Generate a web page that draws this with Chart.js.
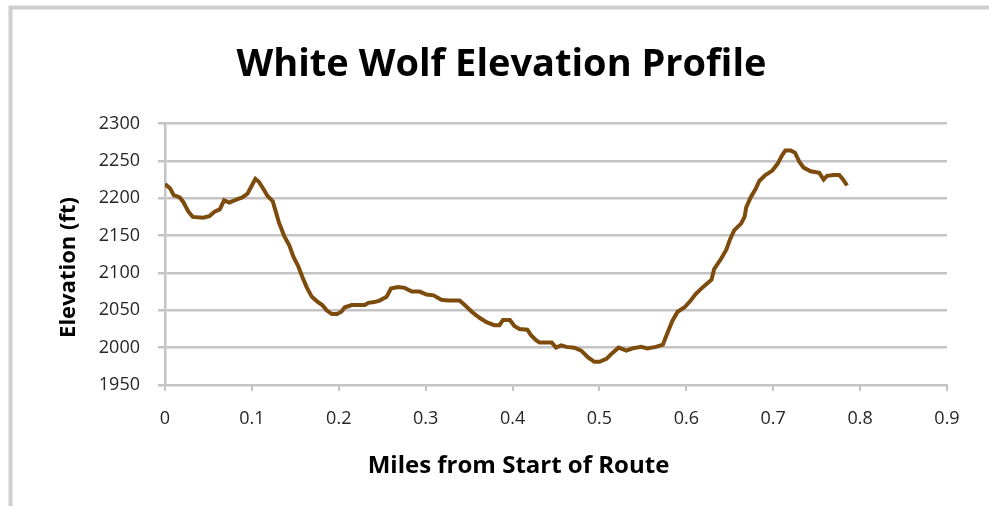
<!DOCTYPE html>
<html>
<head>
<meta charset="utf-8">
<script src="https://cdn.jsdelivr.net/npm/chart.js@4.4.0/dist/chart.umd.min.js"></script>
<style>
  html, body { margin: 0; padding: 0; background: #ffffff; }
  #wrap { width: 989px; height: 506px; }
</style>
</head>
<body>
<div id="wrap"><canvas id="c" width="989" height="506"></canvas></div>
<script>
const CHART_TITLE = "White Wolf Elevation Profile";
const X_TITLE = "Miles from Start of Route";
const Y_TITLE = "Elevation (ft)";
const X_TICK_LABELS = ["0", "0.1", "0.2", "0.3", "0.4", "0.5", "0.6", "0.7", "0.8", "0.9"];
const Y_TICK_LABELS = ["1950", "2000", "2050", "2100", "2150", "2200", "2250", "2300"];

const miles = [
  0.000, 0.006, 0.010, 0.017, 0.021, 0.027, 0.032, 0.044, 0.051, 0.057,
  0.063, 0.068, 0.074, 0.082, 0.089, 0.095, 0.099, 0.104, 0.108, 0.114,
  0.118, 0.124, 0.127, 0.131, 0.137, 0.143, 0.148, 0.153, 0.158, 0.163,
  0.169, 0.175, 0.181, 0.186, 0.192, 0.198, 0.203, 0.207, 0.215, 0.230,
  0.234, 0.241, 0.247, 0.255, 0.260, 0.268, 0.276, 0.284, 0.293, 0.301,
  0.309, 0.318, 0.326, 0.339, 0.345, 0.353, 0.362, 0.370, 0.379, 0.385,
  0.389, 0.397, 0.402, 0.408, 0.417, 0.421, 0.427, 0.431, 0.445, 0.450,
  0.456, 0.462, 0.471, 0.479, 0.487, 0.494, 0.500, 0.508, 0.515, 0.522,
  0.531, 0.538, 0.548, 0.555, 0.565, 0.573, 0.578, 0.584, 0.590, 0.598,
  0.605, 0.611, 0.619, 0.629, 0.632, 0.640, 0.646, 0.650, 0.655, 0.663,
  0.667, 0.669, 0.674, 0.680, 0.684, 0.691, 0.699, 0.705, 0.710, 0.714,
  0.720, 0.725, 0.730, 0.735, 0.743, 0.753, 0.758, 0.762, 0.770, 0.776,
  0.781, 0.785
];
const elevation = [
  2219, 2213, 2204, 2201, 2195, 2182, 2175, 2174, 2176, 2182,
  2185, 2197, 2194, 2198, 2201, 2206, 2215, 2226, 2222, 2211,
  2203, 2196, 2184, 2168, 2150, 2137, 2121, 2110, 2095, 2081,
  2068, 2062, 2057, 2050, 2045, 2045, 2048, 2054, 2057, 2057,
  2060, 2061, 2063, 2068, 2079, 2081, 2080, 2075, 2075, 2071,
  2070, 2064, 2063, 2063, 2057, 2048, 2040, 2034, 2030, 2030,
  2037, 2037, 2029, 2025, 2024, 2017, 2010, 2007, 2007, 2000,
  2003, 2001, 2000, 1996, 1987, 1981, 1981, 1985, 1993, 2000,
  1996, 1999, 2001, 1999, 2001, 2004, 2019, 2036, 2048, 2054,
  2063, 2072, 2081, 2091, 2105, 2119, 2131, 2144, 2157, 2166,
  2175, 2188, 2201, 2213, 2223, 2231, 2237, 2246, 2257, 2264,
  2264, 2261, 2249, 2241, 2236, 2234, 2225, 2230, 2231, 2231,
  2224, 2217
];

const FONT = '"Open Sans", "Noto Sans", sans-serif';
const GRID = '#c4c4c4';

const points = miles.map((m, i) => ({ x: m, y: elevation[i] }));

const framePlugin = {
  id: 'frame',
  beforeDraw(chart) {
    const ctx = chart.ctx;
    ctx.save();
    ctx.fillStyle = '#ffffff';
    ctx.fillRect(0, 0, chart.width, chart.height);
    ctx.strokeStyle = '#cfcfcf';
    ctx.lineWidth = 4;
    ctx.beginPath();
    ctx.moveTo(10.5, chart.height);
    ctx.lineTo(10.5, 7.5);
    ctx.lineTo(chart.width, 7.5);
    ctx.stroke();
    ctx.restore();
  }
};

const axisTitlePlugin = {
  id: 'axisTitles',
  afterDraw(chart) {
    const ctx = chart.ctx;
    ctx.save();
    ctx.fillStyle = '#000000';
    ctx.font = 'bold 24px ' + FONT;
    ctx.textAlign = 'center';
    ctx.textBaseline = 'alphabetic';
    ctx.fillText(X_TITLE, 518.5, 473);
    ctx.font = 'bold 22px ' + FONT;
    ctx.translate(75, 267.5);
    ctx.rotate(-Math.PI / 2);
    ctx.fillText(Y_TITLE, 0, 0);
    ctx.restore();
  }
};

new Chart(document.getElementById('c'), {
  type: 'line',
  data: {
    datasets: [{
      data: points,
      borderColor: '#7d4b0c',
      borderWidth: 4,
      pointRadius: 0,
      tension: 0,
      fill: false
    }]
  },
  options: {
    responsive: false,
    animation: false,
    devicePixelRatio: 1,
    layout: { padding: { left: 56, right: 42, top: 0, bottom: 0 } },
    plugins: {
      legend: { display: false },
      tooltip: { enabled: false },
      title: {
        display: true,
        text: CHART_TITLE,
        color: '#000000',
        font: { family: FONT, size: 38, weight: 'bold', lineHeight: 1.2 },
        padding: { top: 42.5, bottom: 35.4 }
      }
    },
    scales: {
      x: {
        type: 'linear',
        min: 0,
        max: 0.9,
        afterFit: (s) => { s.height = 121; },
        ticks: {
          stepSize: 0.1,
          color: '#262626',
          font: { family: FONT, size: 18 },
          padding: 17,
          maxRotation: 0,
          callback: (v, i) => X_TICK_LABELS[i]
        },
        grid: { drawOnChartArea: false, drawTicks: true, tickLength: 6, color: GRID, lineWidth: 2 },
        border: { color: GRID, width: 2 }
      },
      y: {
        min: 1950,
        max: 2300,
        afterFit: (s) => { s.width = 109; },
        ticks: {
          stepSize: 50,
          color: '#262626',
          font: { family: FONT, size: 18 },
          padding: 18,
          callback: (v, i) => Y_TICK_LABELS[i]
        },
        grid: { color: GRID, lineWidth: 2.5, tickLength: 7 },
        border: { color: GRID, width: 2.5 }
      }
    }
  },
  plugins: [framePlugin, axisTitlePlugin]
});
</script>
</body>
</html>
